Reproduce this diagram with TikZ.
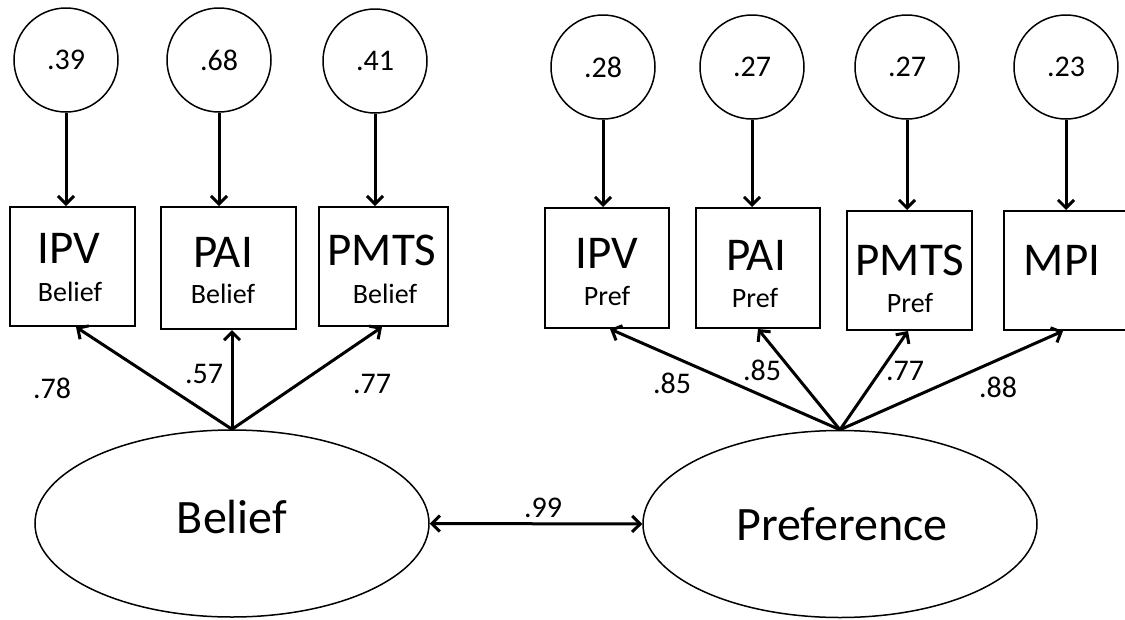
\documentclass[tikz,border=0pt]{standalone}
\usepackage{fontspec}
\setmainfont{Carlito}
\usetikzlibrary{arrows.meta,shapes.geometric}

\tikzset{
  errc/.style={draw, circle, line width=1.5pt, minimum size=104pt, inner sep=0pt, font=\fontsize{30}{30}\selectfont},
  obsbox/.style={draw, rectangle, line width=2pt, inner sep=0pt},
  latent/.style={draw, ellipse, line width=1.5pt, minimum width=394pt, minimum height=187pt, inner sep=0pt},
  title/.style={anchor=base, inner sep=0pt, font=\fontsize{47}{47}\selectfont},
  sub/.style={anchor=base, inner sep=0pt, font=\fontsize{28}{28}\selectfont},
  coef/.style={anchor=base, inner sep=0pt, font=\fontsize{30}{30}\selectfont},
  bigtxt/.style={anchor=base, inner sep=0pt, font=\fontsize{48}{48}\selectfont},
  barb/.tip={Straight Barb[length=8pt,width=16pt,line width=3pt]},
  arr/.style={-barb, line width=3pt},
  dblarr/.style={barb-barb, line width=3pt},
}

\begin{document}
\begin{tikzpicture}[x=1pt, y=-1pt]
\useasboundingbox (0,0) rectangle (1125,619);

% ---- latent factors
\node[latent] (bel) at (232,523.5) {};
\node[latent] (pre) at (840,524) {};
\node[bigtxt] (belt) at (232,533) {Belief};
\node[bigtxt] (pret) at (842,540) {Preference};

% ---- observed indicators: Belief
\node[obsbox, minimum width=125pt, minimum height=119pt] (b1) at (72.5,266.5) {};
\node[obsbox, minimum width=135pt, minimum height=122pt] (b2) at (228.5,268) {};
\node[obsbox, minimum width=129pt, minimum height=119pt] (b3) at (383.5,266.5) {};
\node[title] (b1t) at (69,263) {IPV};
\node[sub]   (b1s) at (70,301) {Belief};
\node[title] (b2t) at (223,267) {PAI};
\node[sub]   (b2s) at (223,303) {Belief};
\node[title] (b3t) at (382,265) {PMTS};
\node[sub]   (b3s) at (385,303) {Belief};

% ---- observed indicators: Preference
\node[obsbox, minimum width=124pt, minimum height=120pt] (p1) at (607,268) {};
\node[obsbox, minimum width=124pt, minimum height=120pt] (p2) at (758,268) {};
\node[obsbox, minimum width=125pt, minimum height=119pt] (p3) at (909.5,270.5) {};
\node[obsbox, minimum width=124pt, minimum height=119pt] (p4) at (1066,270.5) {};
\node[title] (p1t) at (607,268) {IPV};
\node[sub]   (p1s) at (607,305) {Pref};
\node[title] (p2t) at (756,270) {PAI};
\node[sub]   (p2s) at (755,307) {Pref};
\node[title] (p3t) at (910,275) {PMTS};
\node[sub]   (p3s) at (910,312) {Pref};
\node[title] (p4t) at (1062,275) {MPI};

% ---- error variances
\node[errc] (e1) at (66,60) {.39};
\node[errc] (e2) at (219,60) {.68};
\node[errc] (e3) at (375,61) {.41};
\node[errc] (f1) at (603,67) {.28};
\node[errc] (f2) at (752,67) {.27};
\node[errc] (f3) at (907,67) {.27};
\node[errc] (f4) at (1066,67) {.23};

\foreach \e/\b in {e1/b1,e2/b2,e3/b3,f1/p1,f2/p2,f3/p3,f4/p4}
  \draw[arr] (\e.south) -- (\e.south |- \b.north);

% ---- loadings
\coordinate (bt) at (bel.north);
\coordinate (pt) at (pre.north);
\draw[arr] (bt) -- ([xshift=3.5pt]b1.south);
\draw[arr] (bt) -- (bt |- b2.south);
\draw[arr] (bt) -- ([xshift=-1.5pt]b3.south);
\draw[arr] (pt) -- ([xshift=3pt]p1.south);
\draw[arr] (pt) -- (p2.south);
\draw[arr] (pt) -- ([xshift=-1.5pt]p3.south);
\draw[arr] (pt) -- ([xshift=-3pt]p4.south);

\node[coef] (l1) at (52,398) {.78};
\node[coef] (l2) at (204,383) {.57};
\node[coef] (l3) at (372,393) {.77};
\node[coef] (m1) at (672,393) {.85};
\node[coef] (m2) at (762,380) {.85};
\node[coef] (m3) at (905,380) {.77};
\node[coef] (m4) at (998,397) {.88};

% ---- factor correlation
\draw[dblarr] (bel.east) -- (pre.west);
\node[coef] (r) at (543,517) {.99};
\end{tikzpicture}
\end{document}
